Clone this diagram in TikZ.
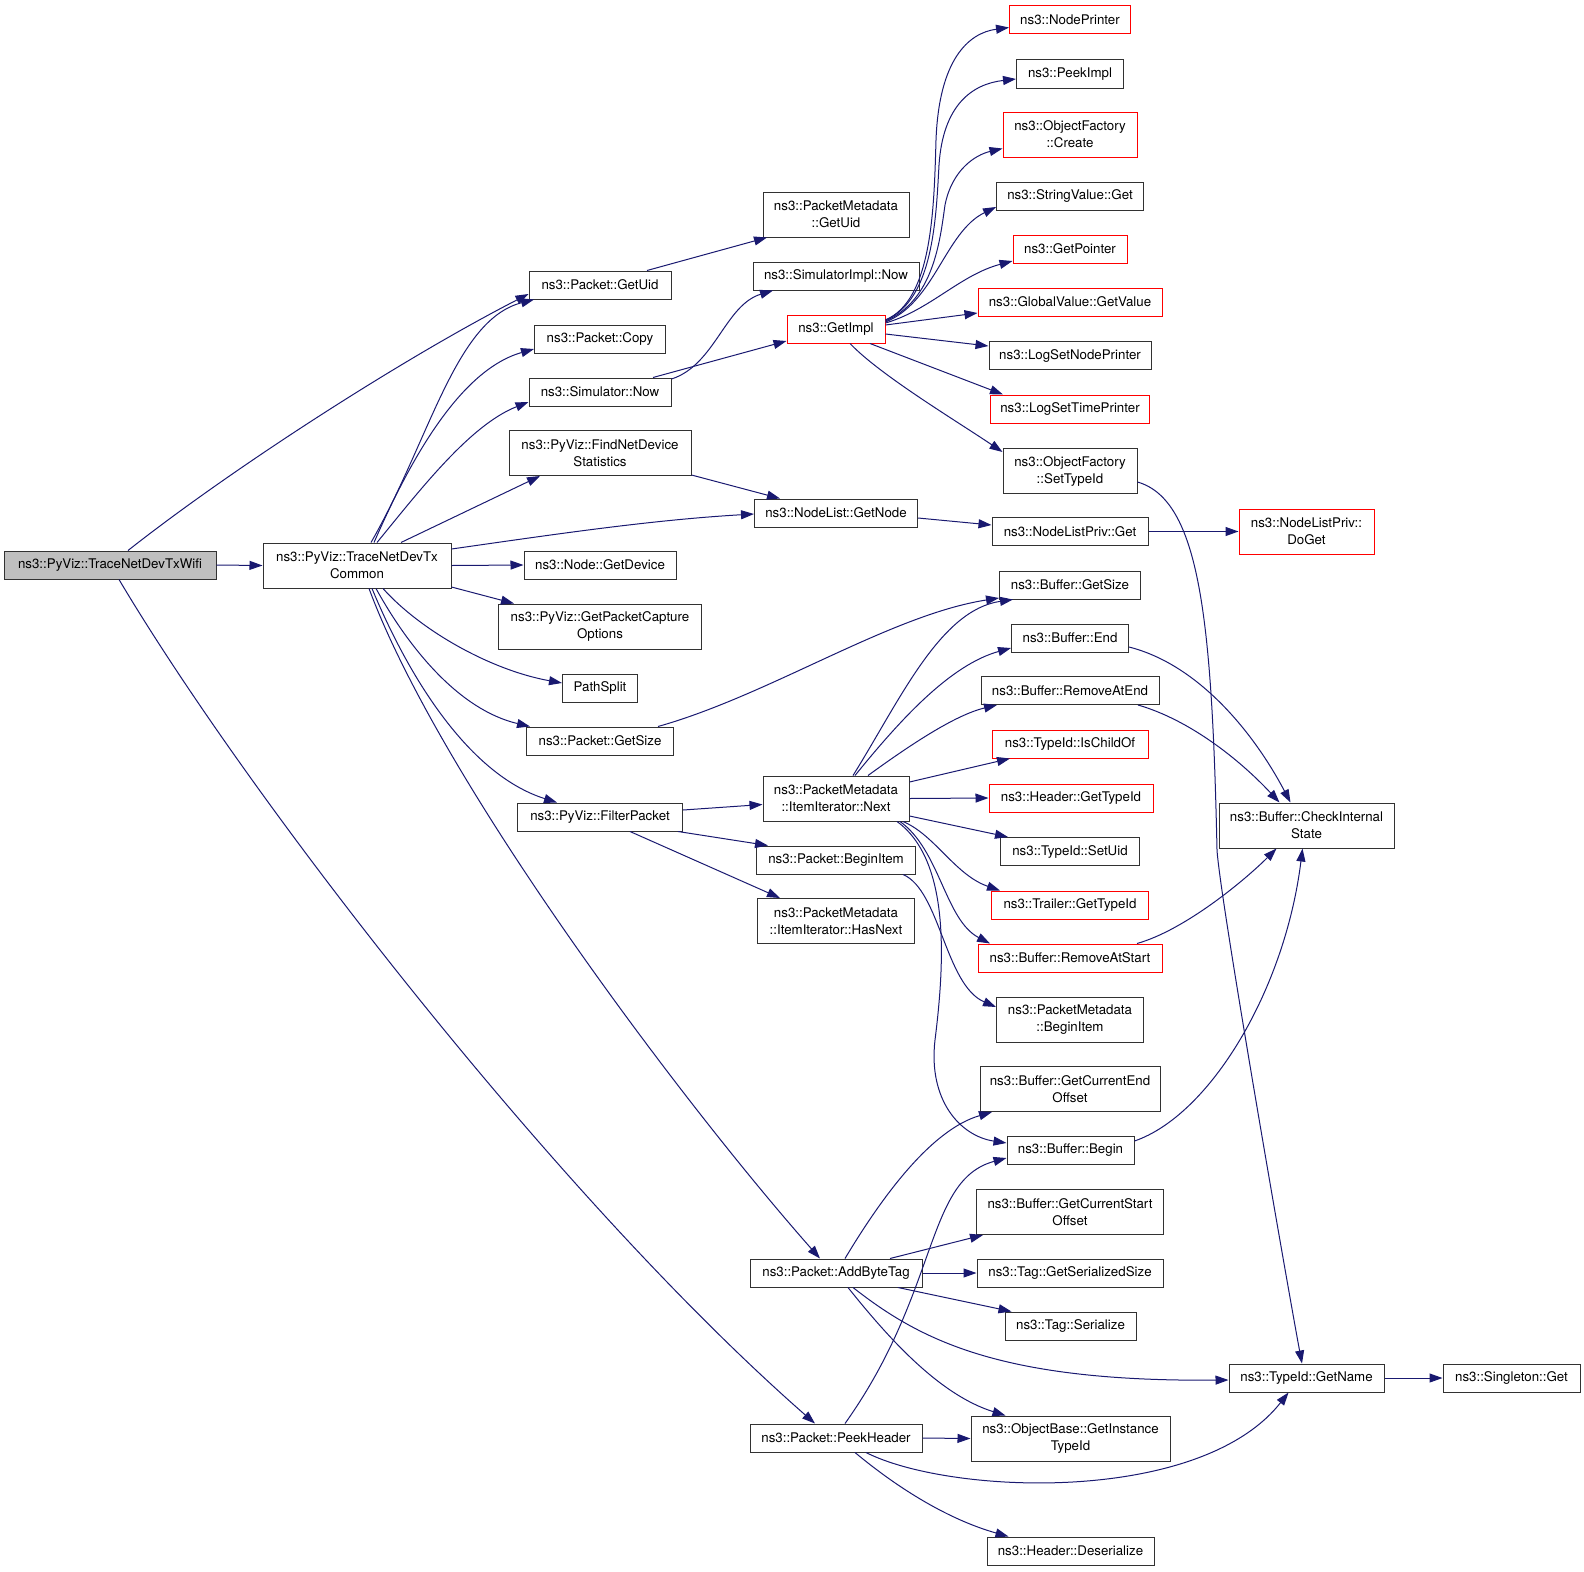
\documentclass[tikz,border=0pt]{standalone}
\usepackage{fontspec}
\setmainfont{TeX Gyre Heros}
\usetikzlibrary{arrows.meta}
\definecolor{edgec}{RGB}{25,25,112}
\definecolor{bordc}{RGB}{50,50,50}
\definecolor{fillg}{RGB}{191,191,191}
\definecolor{redb}{RGB}{255,0,0}
\newcommand{\dxfont}{\fontsize{13.3pt}{17pt}\selectfont}
\begin{document}
\begin{tikzpicture}[x=1pt,y=-1pt,
  nd/.style={draw=bordc, fill=white, line width=1pt, inner sep=0pt, minimum height=28pt, align=center, font=\dxfont},
  nd2/.style={nd, minimum height=45pt},
  rednd/.style={draw=redb},
  e/.style={draw=edgec, line width=1pt, -{Triangle[length=13pt,width=9pt]}}]
\useasboundingbox (0,0) rectangle (1584,1571);

% left part
\node[nd, fill=fillg, minimum width=212pt] (wifi) at (110,565) {ns3::PyViz::TraceNetDevTxWifi};
\node[nd2, minimum width=188pt] (common) at (357,565.5) {ns3::PyViz::TraceNetDevTx\\Common};
\node[nd, minimum width=142pt] (pgetuid) at (600,285) {ns3::Packet::GetUid};
\node[nd2, minimum width=146pt] (pmgetuid) at (836,214.5) {ns3::PacketMetadata\\::GetUid};
\node[nd, minimum width=131pt] (pcopy) at (600,339) {ns3::Packet::Copy};
\node[nd, minimum width=142pt] (simnow) at (600,392) {ns3::Simulator::Now};
\node[nd, minimum width=166pt] (simimplnow) at (836,276) {ns3::SimulatorImpl::Now};
\node[nd, rednd, minimum width=98pt] (getimpl) at (836,329) {ns3::GetImpl};
\node[nd2, minimum width=182pt] (findnet) at (600,453) {ns3::PyViz::FindNetDevice\\Statistics};
\node[nd, minimum width=163pt] (getnode) at (836,513) {ns3::NodeList::GetNode};
\node[nd, minimum width=152pt] (getdevice) at (600,565) {ns3::Node::GetDevice};
\node[nd2, minimum width=203pt] (capture) at (600,626.5) {ns3::PyViz::GetPacketCapture\\Options};
\node[nd, minimum width=75pt] (pathsplit) at (600,688) {PathSplit};
\node[nd, minimum width=147pt] (pgetsize) at (600,741) {ns3::Packet::GetSize};
\node[nd, minimum width=165pt] (filter) at (600,817) {ns3::PyViz::FilterPacket};
\node[nd2, minimum width=146pt] (next) at (836,798.5) {ns3::PacketMetadata\\::ItemIterator::Next};
\node[nd, minimum width=159pt] (pbeginitem) at (836,860) {ns3::Packet::BeginItem};
\node[nd2, minimum width=157pt] (hasnext) at (836,921) {ns3::PacketMetadata\\::ItemIterator::HasNext};
\node[nd, minimum width=172pt] (addbytetag) at (836,1273) {ns3::Packet::AddByteTag};
\node[nd, minimum width=172pt] (peekheader) at (836,1438) {ns3::Packet::PeekHeader};

% column 1070
\node[nd, rednd, minimum width=121pt] (nodeprinter) at (1070,19.5) {ns3::NodePrinter};
\node[nd, minimum width=107pt] (peekimpl) at (1070,74) {ns3::PeekImpl};
\node[nd2, rednd, minimum width=134pt] (ofcreate) at (1070,134.5) {ns3::ObjectFactory\\::Create};
\node[nd, minimum width=147pt] (stringvalue) at (1070,196) {ns3::StringValue::Get};
\node[nd, rednd, minimum width=114pt] (getpointer) at (1070,249) {ns3::GetPointer};
\node[nd, rednd, minimum width=184pt] (globalvalue) at (1070,302) {ns3::GlobalValue::GetValue};
\node[nd, minimum width=162pt] (logsetnode) at (1070,355.5) {ns3::LogSetNodePrinter};
\node[nd, rednd, minimum width=159pt] (logsettime) at (1070,409) {ns3::LogSetTimePrinter};
\node[nd2, minimum width=134pt] (settypeid) at (1070,471) {ns3::ObjectFactory\\::SetTypeId};
\node[nd, minimum width=156pt] (nlpget) at (1070,531.5) {ns3::NodeListPriv::Get};
\node[nd, minimum width=141pt] (bufgetsize) at (1070,585) {ns3::Buffer::GetSize};
\node[nd, minimum width=117pt] (bufend) at (1070,638) {ns3::Buffer::End};
\node[nd, minimum width=178pt] (removeatend) at (1070,690.5) {ns3::Buffer::RemoveAtEnd};
\node[nd, rednd, minimum width=156pt] (ischildof) at (1070,744) {ns3::TypeId::IsChildOf};
\node[nd, rednd, minimum width=164pt] (hdrgettypeid) at (1071,798) {ns3::Header::GetTypeId};
\node[nd, minimum width=139pt] (setuid) at (1070,851.5) {ns3::TypeId::SetUid};
\node[nd, rednd, minimum width=157pt] (trailer) at (1070,905) {ns3::Trailer::GetTypeId};
\node[nd, rednd, minimum width=184pt] (removeatstart) at (1070,958) {ns3::Buffer::RemoveAtStart};
\node[nd2, minimum width=147pt] (pmbeginitem) at (1070,1020) {ns3::PacketMetadata\\::BeginItem};
\node[nd2, minimum width=180pt] (curend) at (1070,1089) {ns3::Buffer::GetCurrentEnd\\Offset};
\node[nd, minimum width=127pt] (bufbegin) at (1070.5,1150) {ns3::Buffer::Begin};
\node[nd2, minimum width=187pt] (curstart) at (1070,1212) {ns3::Buffer::GetCurrentStart\\Offset};
\node[nd, minimum width=186pt] (serializedsize) at (1070,1273) {ns3::Tag::GetSerializedSize};
\node[nd, minimum width=131pt] (tagserialize) at (1070.5,1326) {ns3::Tag::Serialize};
\node[nd2, minimum width=199pt] (instancetypeid) at (1070.5,1438.5) {ns3::ObjectBase::GetInstance\\TypeId};
\node[nd, minimum width=167pt] (deserialize) at (1070.5,1551) {ns3::Header::Deserialize};

% right part
\node[nd2, rednd, minimum width=135pt] (doget) at (1306.5,531.5) {ns3::NodeListPriv::\\DoGet};
\node[nd2, minimum width=175pt] (checkinternal) at (1306.5,825.5) {ns3::Buffer::CheckInternal\\State};
\node[nd, minimum width=155pt] (getname) at (1306.5,1378) {ns3::TypeId::GetName};
\node[nd, minimum width=137pt] (singleton) at (1511.5,1378) {ns3::Singleton::Get};

% edges from wifi
\draw[e] ([xshift=18pt]wifi.north) .. controls (230,470) and (400,360) .. ([yshift=-9pt]pgetuid.west);
\draw[e] (wifi.east) -- (common.west);
\draw[e] ([xshift=9pt]wifi.south) .. controls (250,800) and (560,1200) .. ([xshift=-21pt]peekheader.north);

% edges from common
\draw[e] ([xshift=14pt]common.north) .. controls (430,440) and (455,320) .. ([xshift=-66pt]pgetuid.south);
\draw[e] ([xshift=17pt]common.north) .. controls (410,460) and (460,370) .. ([yshift=-10pt]pcopy.west);
\draw[e] ([xshift=20pt]common.north) .. controls (420,490) and (470,425) .. ([yshift=-10pt]simnow.west);
\draw[e] ([xshift=44pt]common.north) -- ([xshift=-60pt]findnet.south);
\draw[e] ([yshift=16.5pt]common.east) .. controls (550,535) and (650,520) .. ([yshift=-1pt]getnode.west);
\draw[e] (common.east) -- (getdevice.west);
\draw[e] ([yshift=-21.5pt]common.east) -- ([xshift=-86pt]capture.north);
\draw[e] ([xshift=26pt]common.south) .. controls (420,630) and (490,670) .. ([yshift=5pt]pathsplit.west);
\draw[e] ([xshift=19pt]common.south) .. controls (410,650) and (460,710) .. ([xshift=-70pt]pgetsize.north);
\draw[e] ([xshift=15pt]common.south) .. controls (410,680) and (470,775) .. ([xshift=-43pt]filter.north);
\draw[e] ([xshift=12pt]common.south) .. controls (440,780) and (680,1100) .. ([xshift=-16pt]addbytetag.north);

% middle column edges
\draw[e] ([xshift=47pt]pgetuid.north) -- ([xshift=-69pt]pmgetuid.south);
\draw[e] ([yshift=13pt]simnow.east) .. controls (715,365) and (725,305) .. ([xshift=-63pt]simimplnow.south);
\draw[e] ([xshift=53pt]simnow.north) -- ([yshift=-12pt]getimpl.west);
\draw[e] ([yshift=-22pt]findnet.east) -- ([xshift=-56pt]getnode.north);
\draw[e] ([yshift=-5pt]getnode.east) -- ([yshift=6.5pt]nlpget.west);
\draw[e] (nlpget.east) -- (doget.west);

% GetImpl fan
\draw[e] ([yshift=9pt]getimpl.east) .. controls (932,300) and (934,210) .. (936,140) .. controls (939,60) and (968,33) .. ([yshift=-8pt]nodeprinter.west);
\draw[e] ([yshift=9pt]getimpl.east) .. controls (933,300) and (936,220) .. (939,165) .. controls (943,105) and (972,84) .. ([yshift=-5pt]peekimpl.west);
\draw[e] ([yshift=8pt]getimpl.east) .. controls (934,300) and (940,240) .. (945,205) .. controls (952,170) and (975,155) .. ([yshift=-14pt]ofcreate.west);
\draw[e] ([yshift=7pt]getimpl.east) .. controls (935,302) and (945,232) .. ([yshift=-11pt]stringvalue.west);
\draw[e] ([yshift=6pt]getimpl.east) .. controls (930,310) and (960,275) .. ([yshift=-12pt]getpointer.west);
\draw[e] ([yshift=4pt]getimpl.east) -- ([yshift=-11pt]globalvalue.west);
\draw[e] ([yshift=-5pt]getimpl.east) -- ([yshift=9.5pt]logsetnode.west);
\draw[e] ([xshift=34pt]getimpl.south) -- ([xshift=-67pt]logsettime.north);
\draw[e] ([xshift=14pt]getimpl.south) .. controls (880,375) and (955,420) .. ([yshift=19pt]settypeid.west);

% SetTypeId -> GetName
\draw[e] ([yshift=-11pt]settypeid.east) .. controls (1200,500) and (1212,620) .. (1217,850) .. controls (1220,900) and (1290,1300) .. ([xshift=-4.5pt]getname.north);

% Buffer::GetSize
\draw[e] ([xshift=58pt]pgetsize.north) .. controls (770,695) and (890,615) .. ([yshift=-13pt]bufgetsize.west);

% ItemIterator::Next fan
\draw[e] ([xshift=17pt]next.north) .. controls (900,700) and (940,610) .. ([xshift=-57pt]bufgetsize.south);
\draw[e] ([xshift=19pt]next.north) .. controls (900,720) and (950,665) .. ([yshift=-10pt]bufend.west);
\draw[e] ([xshift=32pt]next.north) .. controls (910,745) and (955,715) .. ([xshift=-73pt]removeatend.south);
\draw[e] ([yshift=16.5pt]next.east) -- ([xshift=-60pt]ischildof.south);
\draw[e] (next.east) -- (hdrgettypeid.west);
\draw[e] ([yshift=-17.5pt]next.east) -- ([xshift=-62pt]setuid.north);
\draw[e] ([xshift=67pt]next.south) .. controls (935,835) and (955,875) .. ([xshift=-70pt]trailer.north);
\draw[e] ([xshift=64pt]next.south) .. controls (940,850) and (945,920) .. ([xshift=-80pt]removeatstart.north);
\draw[e] ([xshift=61pt]next.south) .. controls (950,860) and (945,960) .. (935,1040) .. controls (928,1100) and (960,1136) .. ([yshift=7pt]bufbegin.west);

% FilterPacket
\draw[e] ([yshift=7pt]filter.east) -- ([yshift=-6pt]next.west);
\draw[e] ([xshift=78pt]filter.south) -- ([xshift=-68pt]pbeginitem.north);
\draw[e] ([xshift=30pt]filter.south) -- ([xshift=-56pt]hasnext.north);
\draw[e] ([xshift=67pt]pbeginitem.south) .. controls (940,890) and (945,985) .. ([yshift=13pt]pmbeginitem.west);

% CheckInternalState
\draw[e] ([yshift=-9pt]bufend.east) .. controls (1200,665) and (1255,735) .. ([xshift=-16pt]checkinternal.north);
\draw[e] ([xshift=68pt]removeatend.south) .. controls (1190,720) and (1240,760) .. ([xshift=-27pt]checkinternal.north);
\draw[e] ([xshift=67pt]removeatstart.north) .. controls (1185,930) and (1245,880) .. ([xshift=-30pt]checkinternal.south);
\draw[e] ([yshift=9pt]bufbegin.east) .. controls (1210,1115) and (1285,990) .. ([xshift=-4pt]checkinternal.south);

% AddByteTag
\draw[e] ([xshift=9pt]addbytetag.north) .. controls (880,1200) and (930,1130) .. ([xshift=-78pt]curend.south);
\draw[e] ([xshift=54pt]addbytetag.north) -- ([xshift=-87pt]curstart.south);
\draw[e] (addbytetag.east) -- (serializedsize.west);
\draw[e] ([xshift=62pt]addbytetag.south) -- ([xshift=-59pt]tagserialize.north);
\draw[e] ([xshift=17pt]addbytetag.south) .. controls (920,1340) and (1000,1382) .. ([yshift=-2pt]getname.west);
\draw[e] ([xshift=12pt]addbytetag.south) .. controls (890,1340) and (940,1395) .. ([xshift=-65pt]instancetypeid.north);

% PeekHeader
\draw[e] ([xshift=9pt]peekheader.north) .. controls (940,1290) and (925,1180) .. ([yshift=-8pt]bufbegin.west);
\draw[e] (peekheader.east) -- (instancetypeid.west);
\draw[e] ([xshift=30pt]peekheader.south) .. controls (950,1495) and (1200,1505) .. ([xshift=-18pt]getname.south);
\draw[e] ([xshift=19pt]peekheader.south) .. controls (900,1490) and (950,1520) .. ([xshift=-62pt]deserialize.north);

\draw[e] (getname.east) -- (singleton.west);
\end{tikzpicture}
\end{document}
